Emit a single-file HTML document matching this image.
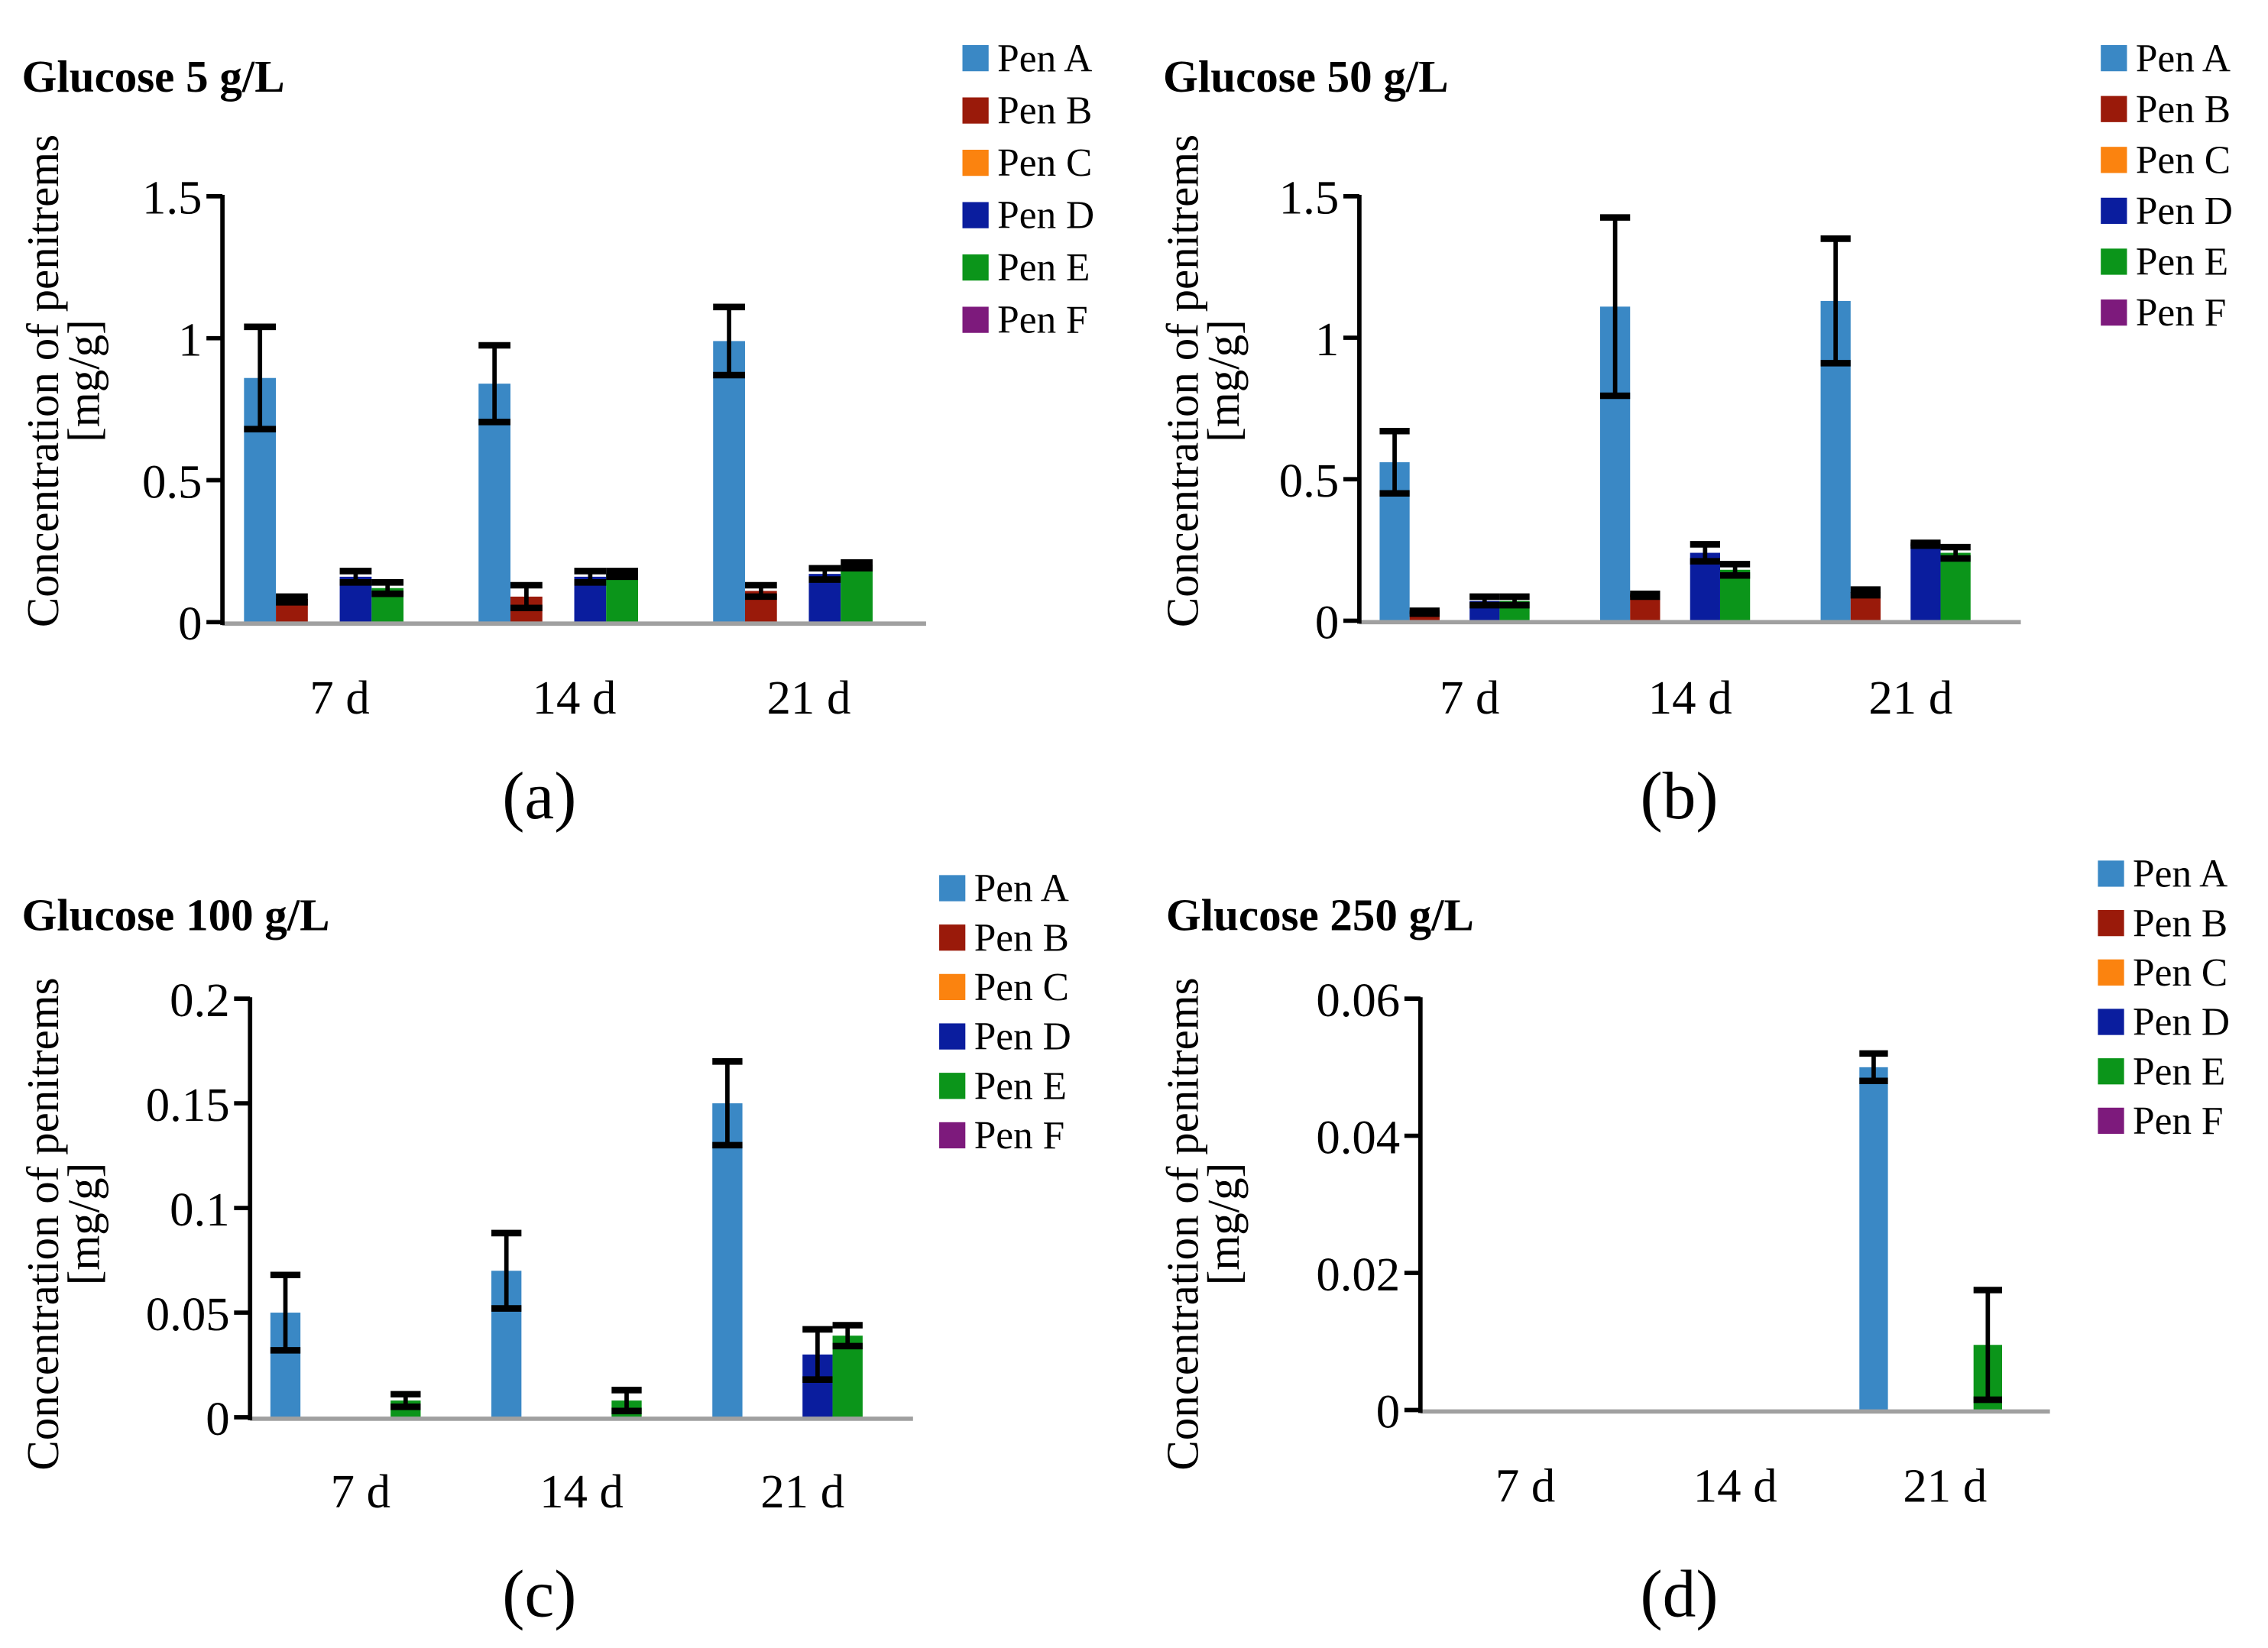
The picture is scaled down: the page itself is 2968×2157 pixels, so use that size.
<!DOCTYPE html>
<html><head><meta charset="utf-8"><style>
html,body{margin:0;padding:0;background:#fff;}
svg{display:block;}
svg text, svg tspan{font-family:"Liberation Serif","DejaVu Serif",serif;fill:#000;}
</style></head><body>
<svg id="fig" width="2968" height="2157" viewBox="0 0 1560 1133.7" xmlns="http://www.w3.org/2000/svg" font-family="Liberation Serif, DejaVu Serif, serif"></svg>
<script>
const categories = ["7 d", "14 d", "21 d"];
const series = ["Pen A", "Pen B", "Pen C", "Pen D", "Pen E", "Pen F"];
const colors = ["#3a88c5", "#9a1a0a", "#fb830f", "#0a1d9e", "#0b951a", "#7d1a7c"];
// panel a (Glucose 5 g/L)
const aVals = [[0.86,0.08,0,0.16,0.12,0],[0.84,0.09,0,0.16,0.17,0],[0.99,0.11,0,0.17,0.20,0]];
const aErr  = [[0.18,0.01,0,0.02,0.02,0],[0.135,0.04,0,0.02,0.01,0],[0.12,0.02,0,0.02,0.01,0]];
const aTicks = [0, 0.5, 1, 1.5];
const aTickLabels = ["0", "0.5", "1", "1.5"];
// panel b (Glucose 50 g/L)
const bVals = [[0.56,0.03,0,0.07,0.07,0],[1.11,0.09,0,0.24,0.18,0],[1.13,0.10,0,0.27,0.24,0]];
const bErr  = [[0.11,0.005,0,0.015,0.015,0],[0.315,0.005,0,0.03,0.02,0],[0.22,0.01,0,0.005,0.02,0]];
const bTicks = [0, 0.5, 1, 1.5];
const bTickLabels = ["0", "0.5", "1", "1.5"];
// panel c (Glucose 100 g/L)
const cVals = [[0.05,0,0,0,0.008,0],[0.07,0,0,0,0.008,0],[0.15,0,0,0.03,0.039,0]];
const cErr  = [[0.018,0,0,0,0.003,0],[0.018,0,0,0,0.005,0],[0.02,0,0,0.012,0.005,0]];
const cTicks = [0, 0.05, 0.1, 0.15, 0.2];
const cTickLabels = ["0", "0.05", "0.1", "0.15", "0.2"];
// panel d (Glucose 250 g/L)
const dVals = [[0,0,0,0,0,0],[0,0,0,0,0,0],[0.05,0,0,0,0.0095,0]];
const dErr  = [[0,0,0,0,0,0],[0,0,0,0,0,0],[0.002,0,0,0,0.008,0]];
const dTicks = [0, 0.02, 0.04, 0.06];
const dTickLabels = ["0", "0.02", "0.04", "0.06"];

const NS = "http://www.w3.org/2000/svg";
const FF = '"Liberation Serif", "DejaVu Serif", serif';
const fig = document.getElementById("fig");
function mk(tag, attrs, parent){ const e=document.createElementNS(NS,tag); for(const k in attrs) e.setAttribute(k,attrs[k]); if(tag==="text") e.style.fontFamily=FF; (parent||fig).appendChild(e); return e; }

function panel(cfg){
  const g = mk("g",{});
  
  
  const ymax = cfg.ticks[cfg.ticks.length-1];
  const yScale = v => cfg.y0 - (v/ymax)*(cfg.y0-cfg.yTop);
  const gw = (cfg.xEnd - cfg.x0)/categories.length;
  const bw = gw*0.136;
  const xBand = (ci, si) => cfg.x0 + gw*ci + (gw - 6*bw)/2 + si*bw;
  const t = mk("text",{x:cfg.titleX,y:cfg.titleY,"font-size":31,"font-weight":"bold"},g);
  t.textContent = cfg.title;
  
  
  const yt = mk("text",{transform:`translate(${cfg.yLabX},${cfg.yLabY}) rotate(-90)`,"font-size":31,"text-anchor":"middle"},g);
  
  
  const ts1 = mk("tspan",{x:0,dy:0},yt); ts1.textContent="Concentration of penitrems";
  const ts2 = mk("tspan",{x:0,dy:28},yt); ts2.textContent="[mg/g]";
  cfg.vals.forEach((row,ci)=>{
    row.forEach((v,si)=>{
      if(v<=0) return;
      const x = xBand(ci,si);
      const r = mk("rect",{x:x,y:yScale(v),width:bw,height:cfg.y0-yScale(v),fill:colors[si]},g);
      
      
    });
  });
  const xa = mk("line",{x1:cfg.x0,x2:cfg.xEnd,y1:cfg.y0+1,y2:cfg.y0+1,stroke:"#a0a0a0","stroke-width":3},g);
  
  
  const ya = mk("line",{x1:cfg.x0,x2:cfg.x0,y1:cfg.yTop-1,y2:cfg.y0+2,stroke:"#000","stroke-width":3},g);
  
  
  cfg.ticks.forEach((tv,i)=>{
    const y = yScale(tv);
    const tk = mk("line",{x1:cfg.x0-11,x2:cfg.x0,y1:y,y2:y,stroke:"#000","stroke-width":3},g);
    
    
    const tl = mk("text",{x:cfg.x0-14,y:y+12,"font-size":33,"text-anchor":"end"},g);
    tl.textContent = cfg.tickLabels[i];
    
    
  });
  cfg.vals.forEach((row,ci)=>{
    row.forEach((v,si)=>{
      const e = cfg.err[ci][si];
      if(v<=0 || e<=0) return;
      const cx = xBand(ci,si)+bw/2;
      const yh = yScale(v+e), yl = yScale(Math.max(0,v-e));
      const eg = mk("g",{},g);
      
      
      mk("line",{x1:cx,x2:cx,y1:yh,y2:yl,stroke:"#000","stroke-width":3},eg);
      mk("line",{x1:cx-bw/2,x2:cx+bw/2,y1:yh,y2:yh,stroke:"#000","stroke-width":4.5},eg);
      mk("line",{x1:cx-bw/2,x2:cx+bw/2,y1:yl,y2:yl,stroke:"#000","stroke-width":4.5},eg);
    });
  });
  categories.forEach((c,ci)=>{
    const cl = mk("text",{x:cfg.x0+gw*ci+gw/2,y:cfg.catY,"font-size":33,"text-anchor":"middle"},g);
    cl.textContent = c;
    
    
  });
  const pl = mk("text",{x:cfg.letterX,y:cfg.letterY,"font-size":46,"text-anchor":"middle"},g);
  pl.textContent = cfg.letter;
  
  
  series.forEach((s,si)=>{
    const y = cfg.legY + si*cfg.legStep;
    const lg = mk("g",{},g);
    
    
    mk("rect",{x:cfg.legX,y:y-9,width:18,height:18,fill:colors[si]},lg);
    const lt = mk("text",{x:cfg.legX+24,y:y+9,"font-size":27},lg);
    lt.textContent = s;
  });
}

panel({id:"panel-a",title:"Glucose 5 g/L",titleX:15,titleY:63,yLabX:40,yLabY:262,x0:153,xEnd:637,y0:428,yTop:135,
  vals:aVals,err:aErr,ticks:aTicks,tickLabels:aTickLabels,catY:491,letter:"(a)",letterX:371,letterY:563,legX:662,legY:40,legStep:36});
panel({id:"panel-b",title:"Glucose 50 g/L",titleX:800,titleY:63,yLabX:824,yLabY:262,x0:935,xEnd:1390,y0:427,yTop:135,
  vals:bVals,err:bErr,ticks:bTicks,tickLabels:bTickLabels,catY:491,letter:"(b)",letterX:1155,letterY:563,legX:1445,legY:40,legStep:35});
panel({id:"panel-c",title:"Glucose 100 g/L",titleX:15,titleY:640,yLabX:40,yLabY:842,x0:172,xEnd:628,y0:975,yTop:687,
  vals:cVals,err:cErr,ticks:cTicks,tickLabels:cTickLabels,catY:1037,letter:"(c)",letterX:371,letterY:1112,legX:646,legY:611,legStep:34});
panel({id:"panel-d",title:"Glucose 250 g/L",titleX:802,titleY:640,yLabX:824,yLabY:842,x0:977,xEnd:1410,y0:970,yTop:687,
  vals:dVals,err:dErr,ticks:dTicks,tickLabels:dTickLabels,catY:1033,letter:"(d)",letterX:1155,letterY:1112,legX:1443,legY:601,legStep:34});
</script>
</body></html>
